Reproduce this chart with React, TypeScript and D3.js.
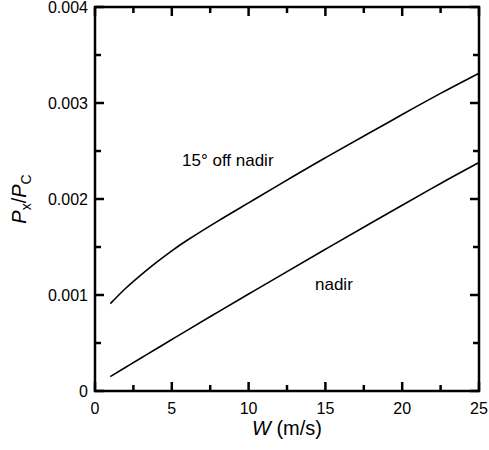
import React from "react";
import * as d3 from "d3";

// wind speed W (m/s) and Px/Pc ratio
const windSpeed = [1, 2, 3, 4, 5, 6, 8, 10, 12, 15, 18, 20, 22.5, 25];
const offNadir = [0.00091, 0.00107, 0.00121, 0.00134, 0.00146, 0.00157, 0.00177, 0.00196, 0.00215, 0.00243, 0.0027, 0.00288, 0.0031, 0.00331];
const nadir = [0.00015, 0.000247, 0.000344, 0.00044, 0.000536, 0.000632, 0.000822, 0.00101, 0.001197, 0.001476, 0.001752, 0.001935, 0.002162, 0.00238];

const xMajor = [0, 5, 10, 15, 20, 25];
const xMinor = [2.5, 7.5, 12.5, 17.5, 22.5];
const yMajor = [0, 0.001, 0.002, 0.003, 0.004];
const yMinor = [0.0005, 0.0015, 0.0025, 0.0035];
const yLabels = ["0", "0.001", "0.002", "0.003", "0.004"];

const W = 489;
const H = 450;
const margin = { left: 95, right: 10, top: 7, bottom: 59 };

export default function App() {
  const x = d3.scaleLinear().domain([0, 25]).range([margin.left, W - margin.right]);
  const y = d3.scaleLinear().domain([0, 0.004]).range([H - margin.bottom, margin.top]);

  const line = d3
    .line<number>()
    .x((_, i) => x(windSpeed[i]))
    .y((d) => y(d))
    .curve(d3.curveNatural);

  const x0 = x(0), x1 = x(25), y0 = y(0), y1 = y(0.004);
  const font = "Arial, 'Liberation Sans', Helvetica, sans-serif";
  const majorLen = 9;
  const minorLen = 6;

  return (
    <svg width={W} height={H} style={{ position: "absolute", left: 0, top: 0, background: "#fff" }} fontFamily={font}>
      <g stroke="#000" strokeWidth={2.5}>
        {xMajor.map((v) => (
          <g key={"xM" + v}>
            <line x1={x(v)} x2={x(v)} y1={y0} y2={y0 - majorLen} />
            <line x1={x(v)} x2={x(v)} y1={y1} y2={y1 + majorLen} />
          </g>
        ))}
        {xMinor.map((v) => (
          <g key={"xm" + v}>
            <line x1={x(v)} x2={x(v)} y1={y0} y2={y0 - minorLen} />
            <line x1={x(v)} x2={x(v)} y1={y1} y2={y1 + minorLen} />
          </g>
        ))}
        {yMajor.map((v) => (
          <g key={"yM" + v}>
            <line x1={x0} x2={x0 + majorLen} y1={y(v)} y2={y(v)} />
            <line x1={x1} x2={x1 - majorLen} y1={y(v)} y2={y(v)} />
          </g>
        ))}
        {yMinor.map((v) => (
          <g key={"ym" + v}>
            <line x1={x0} x2={x0 + minorLen} y1={y(v)} y2={y(v)} />
            <line x1={x1} x2={x1 - minorLen} y1={y(v)} y2={y(v)} />
          </g>
        ))}
        <rect x={x0} y={y1} width={x1 - x0} height={y0 - y1} fill="none" />
      </g>

      <path d={line(offNadir) || ""} fill="none" stroke="#000" strokeWidth={1.6} />
      <path d={line(nadir) || ""} fill="none" stroke="#000" strokeWidth={1.6} />

      <g fontSize={16} fill="#000">
        {xMajor.map((v) => (
          <text key={"xl" + v} x={x(v)} y={y0 + 23} textAnchor="middle">
            {v}
          </text>
        ))}
        {yMajor.map((v, i) => (
          <text key={"yl" + v} x={x0 - 7} y={y(v) + 5.5} textAnchor="end">
            {yLabels[i]}
          </text>
        ))}
      </g>

      <text x={182} y={166} fontSize={17} fill="#000">15° off nadir</text>
      <text x={315} y={290} fontSize={17} fill="#000">nadir</text>

      <text x={(x0 + x1) / 2} y={435} fontSize={20} textAnchor="middle" fill="#000">
        <tspan fontStyle="italic">W</tspan> (m/s)
      </text>

      <text
        transform={`translate(26,${(y0 + y1) / 2}) rotate(-90)`}
        fontSize={20}
        textAnchor="middle"
        fill="#000"
      >
        <tspan fontStyle="italic">P</tspan>
        <tspan fontSize={14} dy={5}>x</tspan>
        <tspan dy={-5}>/</tspan>
        <tspan fontStyle="italic">P</tspan>
        <tspan fontSize={14} dy={5}>C</tspan>
      </text>
    </svg>
  );
}
